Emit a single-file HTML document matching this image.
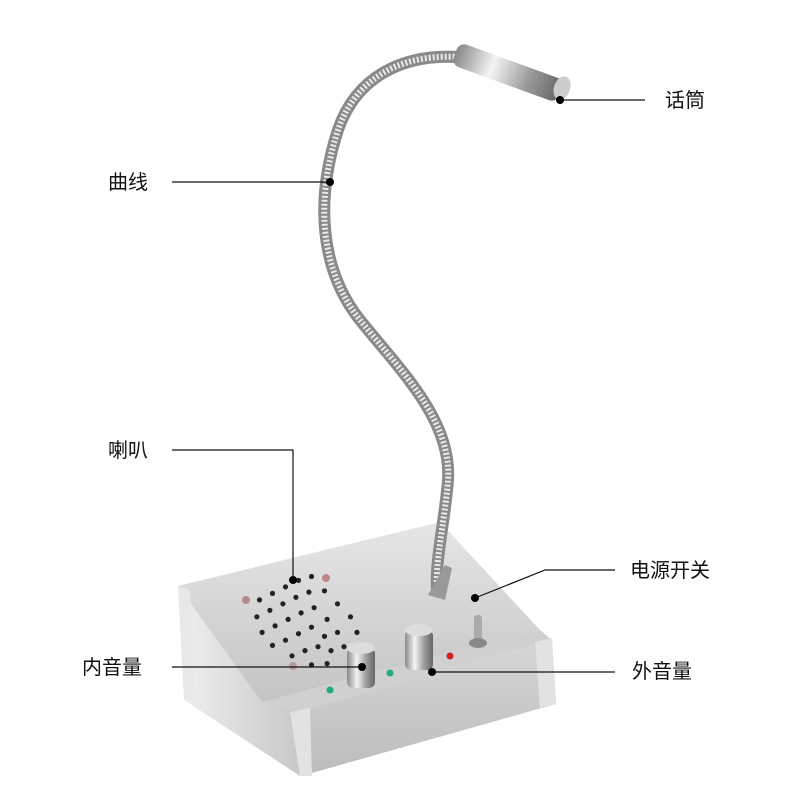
<!DOCTYPE html>
<html><head><meta charset="utf-8"><style>
html,body{margin:0;padding:0;background:#fff;width:800px;height:800px;overflow:hidden}
text{font-family:"Liberation Sans","Noto Sans CJK SC",sans-serif;font-size:20px;fill:#111}
</style></head><body>
<svg width="800" height="800" viewBox="0 0 800 800">
<defs>
<linearGradient id="top" x1="0" y1="0" x2="0" y2="1"><stop offset="0" stop-color="#e6e6e6"/><stop offset="1" stop-color="#c4c4c4"/></linearGradient>
<linearGradient id="front" x1="0" y1="0" x2="0" y2="1"><stop offset="0" stop-color="#d6d6d6"/><stop offset="1" stop-color="#bcbcbc"/></linearGradient>
<linearGradient id="side" x1="0" y1="0" x2="1" y2="0"><stop offset="0" stop-color="#f0f0f0"/><stop offset="1" stop-color="#c8c8c8"/></linearGradient>
<linearGradient id="knob" x1="0" y1="0" x2="1" y2="0"><stop offset="0" stop-color="#888"/><stop offset=".35" stop-color="#f4f4f4"/><stop offset=".7" stop-color="#999"/><stop offset="1" stop-color="#666"/></linearGradient>
</defs>
<polygon points="178,586 297,708 300,776 184,700" fill="url(#side)"/>
<polygon points="178,586 440,522 540,630 262,702" fill="url(#top)"/>
<polygon points="262,702 540,630 552,640 297,712" fill="#d0d0d0"/>
<polygon points="297,712 552,640 556,704 301,776" fill="url(#front)"/>
<polygon points="178,586 190,590 195,700 184,700" fill="#e8e8e8"/>
<polygon points="290,712 310,708 312,776 300,776" fill="#e2e2e2"/>
<polygon points="535,642 552,638 556,704 540,708" fill="#e2e2e2"/>
<g fill="#222" transform="translate(305 622) scale(1.3) translate(-305 -622)">
<circle cx="270" cy="605" r="2"/><circle cx="280" cy="600" r="2"/><circle cx="290" cy="595" r="2"/><circle cx="300" cy="590" r="2"/><circle cx="310" cy="587" r="2"/><circle cx="320" cy="598" r="2"/>
<circle cx="268" cy="618" r="2"/><circle cx="278" cy="613" r="2"/><circle cx="288" cy="608" r="2"/><circle cx="298" cy="603" r="2"/><circle cx="308" cy="599" r="2"/><circle cx="330" cy="608" r="2"/>
<circle cx="272" cy="630" r="2"/><circle cx="282" cy="625" r="2"/><circle cx="292" cy="620" r="2"/><circle cx="302" cy="615" r="2"/><circle cx="312" cy="611" r="2"/><circle cx="322" cy="620" r="2"/><circle cx="340" cy="618" r="2"/>
<circle cx="280" cy="640" r="2"/><circle cx="290" cy="636" r="2"/><circle cx="300" cy="631" r="2"/><circle cx="310" cy="626" r="2"/><circle cx="320" cy="633" r="2"/><circle cx="330" cy="630" r="2"/><circle cx="345" cy="630" r="2"/>
<circle cx="295" cy="648" r="2"/><circle cx="305" cy="644" r="2"/><circle cx="315" cy="641" r="2"/><circle cx="325" cy="644" r="2"/><circle cx="335" cy="641" r="2"/><circle cx="310" cy="655" r="2"/><circle cx="322" cy="654" r="2"/>
</g>
<circle cx="326" cy="578" r="4" fill="#b88"/><circle cx="246" cy="600" r="4" fill="#b88"/><circle cx="293" cy="666" r="4" fill="#b99"/>
<rect x="347" y="648" width="28" height="40" rx="6" fill="url(#knob)"/><ellipse cx="361" cy="648" rx="14" ry="6" fill="#ddd"/>
<rect x="405" y="630" width="28" height="40" rx="6" fill="url(#knob)"/><ellipse cx="419" cy="630" rx="14" ry="6" fill="#ddd"/>
<circle cx="390" cy="673" r="3.5" fill="#2a7"/><circle cx="330" cy="690" r="3.5" fill="#2a7"/><circle cx="450" cy="656" r="3.5" fill="#c22"/>
<rect x="474" y="615" width="8" height="25" rx="3" fill="#aaa"/><ellipse cx="478" cy="643" rx="9" ry="5" fill="#888"/>
<path d="M437,590 C435,560 445,520 448,480 C452,420 400,370 360,320 C320,270 315,200 338,130 C355,80 400,50 470,58" fill="none" stroke="#8a8a8a" stroke-width="12" stroke-linecap="round"/>
<path d="M437,590 C435,560 445,520 448,480 C452,420 400,370 360,320 C320,270 315,200 338,130 C355,80 400,50 470,58" fill="none" stroke="#eaeaea" stroke-width="6" stroke-dasharray="2 2"/>
<path d="M428,595 L445,565 L452,568 L445,600 Z" fill="#999"/>
<g transform="rotate(20 460 55)"><rect x="455" y="43" width="112" height="24" rx="8" fill="url(#knob)"/></g>
<ellipse cx="562" cy="88" rx="8" ry="12" fill="#ccc" transform="rotate(20 562 88)"/>
<g stroke="#111" stroke-width="1.2" fill="none">
<line x1="560" y1="100" x2="645" y2="100"/>
<line x1="172" y1="182" x2="330" y2="182"/>
<polyline points="172,450 293,450 293,580"/>
<polyline points="615,570 545,570 475,598"/>
<line x1="172" y1="667" x2="362" y2="667"/>
<line x1="432" y1="672" x2="615" y2="672"/>
</g>
<g fill="#000"><circle cx="560" cy="100" r="4"/><circle cx="330" cy="182" r="4"/><circle cx="293" cy="580" r="4"/><circle cx="475" cy="598" r="4"/><circle cx="362" cy="667" r="4"/><circle cx="432" cy="672" r="4"/></g>
<text x="665" y="107">话筒</text>
<text x="108" y="189">曲线</text>
<text x="108" y="457">喇叭</text>
<text x="630" y="577">电源开关</text>
<text x="82" y="674">内音量</text>
<text x="632" y="678">外音量</text>
</svg>
</body></html>
